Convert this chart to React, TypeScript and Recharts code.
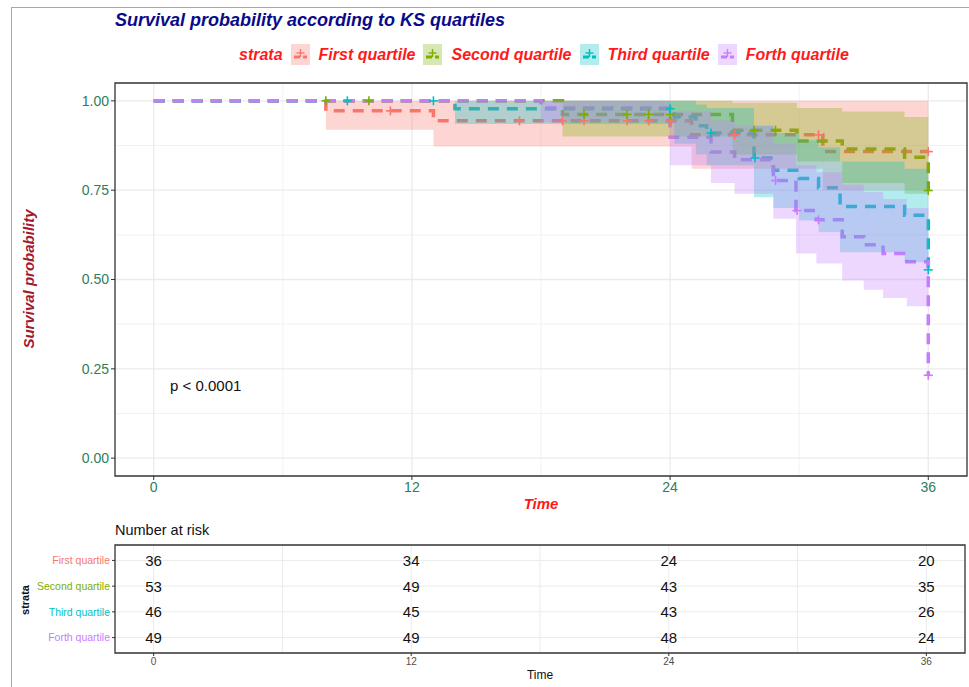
import React from 'react';
import {
  ComposedChart,
  Line,
  Area,
  Scatter,
  XAxis,
  YAxis,
  CartesianGrid,
  ReferenceArea,
} from 'recharts';

const FONT = '"Liberation Sans", Arial, sans-serif';
const TICK_COLOR = '#2e7d5b';

const strataNames = ['First quartile', 'Second quartile', 'Third quartile', 'Forth quartile'];
const strataColors = ['#F8766D', '#7CAE00', '#00BFC4', '#C77CFF'];

// Kaplan-Meier steps (time in months)
const firstTime = [0, 8, 13, 25, 31.1, 36];
const firstSurv = [1, 0.972, 0.944, 0.905, 0.858, 0.858];
const firstLower = [1, 0.919, 0.872, 0.81, 0.75, 0.75];
const firstUpper = [1, 1, 1, 1, 1, 1];
const firstCensor = [11, 17, 19, 20, 22, 23, 24, 27, 30.9, 36];

const secondTime = [0, 19, 26.9, 29.9, 32, 34.9, 36];
const secondSurv = [1, 0.962, 0.918, 0.888, 0.865, 0.842, 0.749];
const secondLower = [1, 0.9, 0.85, 0.83, 0.77, 0.74, 0.64];
const secondUpper = [1, 1, 0.995, 0.98, 0.97, 0.955, 0.87];
const secondCensor = [8, 10, 20, 22, 23, 24, 27.9, 28.9, 36];

const thirdTime = [0, 14, 24.2, 25.2, 25.7, 27.9, 28.8, 30, 30.9, 31.9, 34.9, 36];
const thirdSurv = [1, 0.978, 0.955, 0.93, 0.91, 0.84, 0.806, 0.783, 0.757, 0.704, 0.68, 0.527];
const thirdLower = [1, 0.935, 0.88, 0.85, 0.82, 0.73, 0.7, 0.665, 0.632, 0.576, 0.548, 0.4];
const thirdUpper = [1, 1, 1, 0.99, 0.98, 0.93, 0.91, 0.89, 0.87, 0.83, 0.81, 0.69];
const thirdCensor = [9, 13, 24, 25.9, 27.95, 36];

const forthTime = [0, 18, 24, 25.9, 27, 28.8, 29.85, 30.8, 32, 33, 33.9, 35, 36];
const forthSurv = [1, 0.98, 0.898, 0.857, 0.835, 0.777, 0.693, 0.667, 0.62, 0.597, 0.573, 0.55, 0.232];
const forthLower = [1, 0.94, 0.82, 0.77, 0.74, 0.67, 0.573, 0.545, 0.497, 0.471, 0.448, 0.425, 0.12];
const forthUpper = [1, 1, 0.97, 0.945, 0.93, 0.88, 0.82, 0.8, 0.765, 0.745, 0.725, 0.7, 0.42];
const forthCensor = [28.9, 29.9, 30.9, 36];

const xTicks = [0, 12, 24, 36];
const xMinor = [6, 18, 30];
const yTicks = [0, 0.25, 0.5, 0.75, 1];
const yMinor = [0.125, 0.375, 0.625, 0.875];

// number at risk table
const riskTimes = [0, 12, 24, 36];
const riskFirst = [36, 34, 24, 20];
const riskSecond = [53, 49, 43, 35];
const riskThird = [46, 45, 43, 26];
const riskForth = [49, 49, 48, 24];

const makeCurve = (t: number[], s: number[], lo: number[], hi: number[]) =>
  t.map((time, i) => ({ t: time, s: s[i], ci: [lo[i], hi[i]] }));

const stepAt = (t: number[], s: number[], x: number) => {
  let v = s[0];
  t.forEach((time, i) => {
    if (time <= x) v = s[i];
  });
  return v;
};

const makeCensor = (c: number[], t: number[], s: number[]) =>
  c.map((x) => ({ t: x, s: stepAt(t, s, x) }));

const curves = [
  makeCurve(firstTime, firstSurv, firstLower, firstUpper),
  makeCurve(secondTime, secondSurv, secondLower, secondUpper),
  makeCurve(thirdTime, thirdSurv, thirdLower, thirdUpper),
  makeCurve(forthTime, forthSurv, forthLower, forthUpper),
];

const censors = [
  makeCensor(firstCensor, firstTime, firstSurv),
  makeCensor(secondCensor, secondTime, secondSurv),
  makeCensor(thirdCensor, thirdTime, thirdSurv),
  makeCensor(forthCensor, forthTime, forthSurv),
];

const riskRows = [riskFirst, riskSecond, riskThird, riskForth];
const riskData = riskRows.flatMap((row, r) =>
  row.map((n, i) => ({ t: riskTimes[i], row: 4 - r, n }))
);

const plusShape = (color: string) => (props: any) => {
  const { cx, cy } = props;
  if (cx == null || cy == null) return <g />;
  return (
    <g stroke={color} strokeWidth={1.6}>
      <line x1={cx - 4.5} x2={cx + 4.5} y1={cy} y2={cy} />
      <line x1={cx} x2={cx} y1={cy - 4.5} y2={cy + 4.5} />
    </g>
  );
};

const riskText = (props: any) => {
  const { cx, cy, payload } = props;
  return (
    <text x={cx} y={cy} dy="0.36em" textAnchor="middle" fontSize={15} fontFamily={FONT} fill="#111">
      {payload.n}
    </text>
  );
};

const StrataTick = (props: any) => {
  const { x, y, payload } = props;
  const idx = 4 - payload.value;
  return (
    <text x={x} y={y} dy="0.35em" textAnchor="end" fontSize={10.5} fontFamily={FONT} fill={strataColors[idx]}>
      {strataNames[idx]}
    </text>
  );
};

const LegendKey = ({ color }: { color: string }) => (
  <svg width={19} height={21} style={{ display: 'block' }}>
    <rect x={0} y={0} width={19} height={21} fill={color} fillOpacity={0.3} />
    <line x1={3} x2={16} y1={13} y2={13} stroke={color} strokeWidth={3} strokeDasharray="6 3" />
    <line x1={9.5} x2={9.5} y1={5} y2={13} stroke={color} strokeWidth={1.4} />
    <line x1={5.5} x2={13.5} y1={9} y2={9} stroke={color} strokeWidth={1.4} />
  </svg>
);

const abs = (extra: React.CSSProperties): React.CSSProperties => ({
  position: 'absolute',
  whiteSpace: 'nowrap',
  ...extra,
});

// survival panel, drawn in two stacked layers so the bands sit over the step lines
const SurvivalPanel = ({ layer }: { layer: 'base' | 'top' }) => {
  const isBase = layer === 'base';
  return (
    <ComposedChart width={969} height={530} margin={{ top: 83, right: 2, bottom: 24, left: 55 }}>
      {isBase && (
        <CartesianGrid verticalValues={xMinor} horizontalValues={yMinor} stroke="#EDEDED" strokeWidth={0.7} />
      )}
      {isBase && (
        <CartesianGrid verticalValues={xTicks} horizontalValues={yTicks} stroke="#EBEBEB" strokeWidth={1.3} />
      )}
      <XAxis
        type="number"
        dataKey="t"
        domain={[-1.8, 37.8]}
        ticks={xTicks}
        interval={0}
        allowDataOverflow
        axisLine={false}
        tickLine={isBase ? { stroke: '#333' } : false}
        tickSize={4}
        tick={isBase ? { fill: TICK_COLOR, fontSize: 14, fontFamily: FONT } : false}
        height={30}
      />
      <YAxis
        type="number"
        domain={[-0.05, 1.05]}
        ticks={yTicks}
        interval={0}
        allowDataOverflow
        axisLine={false}
        tickLine={isBase ? { stroke: '#333' } : false}
        tickSize={4}
        tick={isBase ? { fill: TICK_COLOR, fontSize: 14, fontFamily: FONT } : false}
        tickFormatter={(v: number) => v.toFixed(2)}
        width={60}
      />
      {isBase &&
        curves.map((d, i) => (
          <Line
            key={`line-${i}`}
            data={d}
            dataKey="s"
            type="stepAfter"
            stroke={strataColors[i]}
            strokeWidth={3.5}
            strokeDasharray="11 8"
            dot={false}
            activeDot={false}
            isAnimationActive={false}
          />
        ))}
      {!isBase &&
        curves.map((d, i) => (
          <Area
            key={`band-${i}`}
            data={d}
            dataKey="ci"
            type="stepAfter"
            fill={strataColors[i]}
            fillOpacity={0.3}
            stroke="none"
            activeDot={false}
            isAnimationActive={false}
          />
        ))}
      {!isBase &&
        censors.map((d, i) => (
          <Scatter
            key={`cens-${i}`}
            data={d}
            dataKey="s"
            shape={plusShape(strataColors[i])}
            isAnimationActive={false}
          />
        ))}
      {!isBase && (
        <ReferenceArea
          x1={-1.8}
          x2={37.8}
          y1={-0.05}
          y2={1.05}
          fill="none"
          stroke="#333"
          strokeWidth={1.3}
          ifOverflow="visible"
        />
      )}
    </ComposedChart>
  );
};

export default function App() {
  return (
    <div
      style={{
        position: 'absolute',
        left: 0,
        top: 0,
        width: 969,
        height: 687,
        background: '#fff',
        overflow: 'hidden',
        fontFamily: FONT,
      }}
    >
      {/* frame of the screenshot */}
      <div
        style={abs({
          left: 11,
          top: 7,
          width: 980,
          height: 700,
          borderLeft: '1.5px solid #a8a8a8',
          borderTop: '1.5px solid #a8a8a8',
        })}
      />

      <div style={abs({ left: 0, top: 0 })}>
        <SurvivalPanel layer="base" />
      </div>
      <div style={abs({ left: 0, top: 0 })}>
        <SurvivalPanel layer="top" />
      </div>

      <div style={abs({ left: 0, top: 510 })}>
        <ComposedChart width={969} height={177} margin={{ top: 35, right: 4, bottom: 0, left: 55 }}>
          <CartesianGrid
            verticalValues={[0, 6, 12, 18, 24, 30, 36]}
            horizontalValues={[1, 2, 3, 4]}
            stroke="#EBEBEB"
            strokeWidth={1}
          />
          <XAxis
            type="number"
            dataKey="t"
            domain={[-1.8, 37.8]}
            ticks={xTicks}
            interval={0}
            allowDataOverflow
            axisLine={false}
            tickLine={{ stroke: '#333' }}
            tickSize={3}
            tick={{ fill: '#4D4D4D', fontSize: 10, fontFamily: FONT }}
            height={34}
          />
          <YAxis
            type="number"
            domain={[0.4, 4.6]}
            ticks={[1, 2, 3, 4]}
            interval={0}
            allowDataOverflow
            axisLine={false}
            tickLine={{ stroke: '#333' }}
            tickSize={3}
            tick={<StrataTick />}
            width={60}
          />
          <Scatter data={riskData} dataKey="row" shape={riskText} isAnimationActive={false} />
          <ReferenceArea
            x1={-1.8}
            x2={37.8}
            y1={0.4}
            y2={4.6}
            fill="none"
            stroke="#333"
            strokeWidth={1.3}
            ifOverflow="visible"
          />
        </ComposedChart>
      </div>

      {/* titles and labels */}
      <div
        style={abs({
          left: 115,
          top: 10,
          lineHeight: '21px',
          fontSize: 18,
          fontWeight: 'bold',
          fontStyle: 'italic',
          color: '#0a0a8a',
        })}
      >
        Survival probability according to KS quartiles
      </div>

      <div
        style={abs({
          left: 239,
          top: 44,
          height: 21,
          display: 'flex',
          alignItems: 'center',
          fontSize: 16,
          fontWeight: 'bold',
          fontStyle: 'italic',
          color: '#ff1a1a',
        })}
      >
        <span style={{ marginRight: 8 }}>strata</span>
        {strataNames.map((name, i) => (
          <React.Fragment key={name}>
            <LegendKey color={strataColors[i]} />
            <span style={{ marginLeft: 9, marginRight: 8 }}>{name}</span>
          </React.Fragment>
        ))}
      </div>

      <div
        style={abs({
          left: 28,
          top: 279,
          transform: 'translate(-50%, -50%) rotate(-90deg)',
          fontSize: 15,
          fontWeight: 'bold',
          fontStyle: 'italic',
          color: '#a3182c',
        })}
      >
        Survival probability
      </div>

      <div
        style={abs({
          left: 541,
          top: 503,
          transform: 'translate(-50%, -50%)',
          fontSize: 15,
          fontWeight: 'bold',
          fontStyle: 'italic',
          color: '#ff1a1a',
        })}
      >
        Time
      </div>

      <div style={abs({ left: 170, top: 377, lineHeight: '18px', fontSize: 15, color: '#111' })}>
        p &lt; 0.0001
      </div>

      <div style={abs({ left: 115, top: 521, lineHeight: '18px', fontSize: 14.5, color: '#111' })}>
        Number at risk
      </div>

      <div
        style={abs({
          left: 25,
          top: 600,
          transform: 'translate(-50%, -50%) rotate(-90deg)',
          fontSize: 11,
          fontWeight: 'bold',
          color: '#111',
        })}
      >
        strata
      </div>

      <div
        style={abs({
          left: 540,
          top: 675,
          transform: 'translate(-50%, -50%)',
          fontSize: 12,
          color: '#111',
        })}
      >
        Time
      </div>
    </div>
  );
}
